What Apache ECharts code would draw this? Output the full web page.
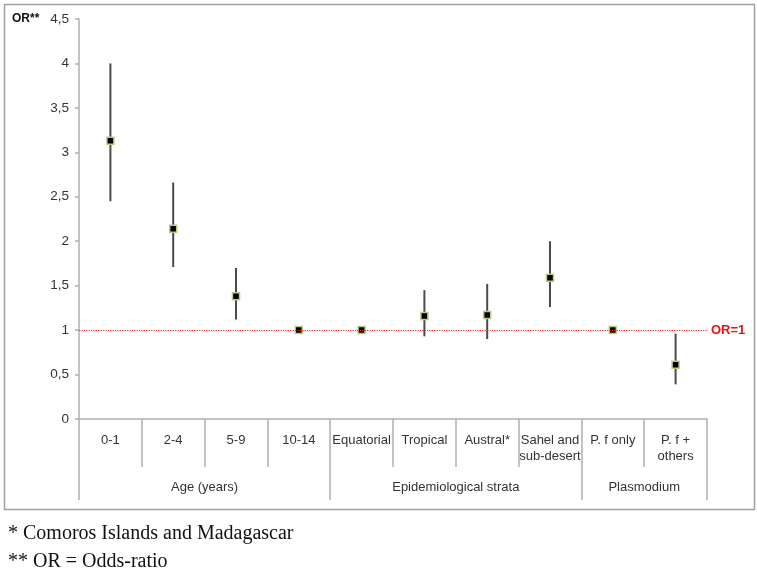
<!DOCTYPE html>
<html>
<head>
<meta charset="utf-8">
<script src="https://cdn.jsdelivr.net/npm/echarts@6/dist/echarts.min.js"></script>
<style>
html,body{margin:0;padding:0;background:#fff;}
#chart{width:757px;height:573px;}
</style>
</head>
<body>
<div id="chart"></div>
<script>
//数据
var categories=['0-1','2-4','5-9','10-14','Equatorial','Tropical','Austral*','Sahel and\nsub-desert','P. f only','P. f +\nothers'];
var orValues=[3.13,2.14,1.38,1,1,1.16,1.17,1.59,1,0.61];
var ciLow=[2.45,1.71,1.12,null,null,0.93,0.90,1.26,null,0.39];
var ciHigh=[4.00,2.66,1.70,null,null,1.45,1.52,2.00,null,0.96];
var groupNames=['Age (years)','Epidemiological strata','Plasmodium'];
var groupSizes=[4,4,2];
var yTicks=[0,4.5,0.5];//min,max,interval
var refLine=1;

//分组轴：半格刻度
var halfSteps=[];
var groupEdges=[0];
(function(){
	for(var i=0;i<=categories.length*2;i++){halfSteps.push('');}
	var start=0;
	for(var g=0;g<groupNames.length;g++){
		halfSteps[start*2+groupSizes[g]]=groupNames[g];
		start+=groupSizes[g];
		groupEdges.push(start*2);
	}
})();

var ciData=[];
for(var i=0;i<categories.length;i++){
	if(ciLow[i]!=null){ciData.push([i,ciLow[i],ciHigh[i]]);}
}

var myChart=echarts.init(document.getElementById('chart'));
var axisGrey='#b0b0b0';
var redLine={color:'#ff2020',type:'dotted',width:1.2};
var option={
	backgroundColor:'#ffffff',
	animation:false,
	textStyle:{fontFamily:'Liberation Sans, Arial, sans-serif'},
	title:{
		text:'OR**',
		left:7,
		top:8,
		textStyle:{fontSize:12,fontWeight:'bold',color:'#111'}
	},
	graphic:[
		{type:'rect',left:2,top:2,shape:{width:750,height:505},style:{fill:'none',stroke:'#a0a0a0',lineWidth:1.5},silent:true},
		{type:'text',left:8,top:524,style:{text:'* Comoros Islands and Madagascar',font:'20px "Liberation Serif", "Times New Roman", serif',fill:'#111'}},
		{type:'text',left:8,top:552,style:{text:'** OR = Odds-ratio',font:'20px "Liberation Serif", "Times New Roman", serif',fill:'#111'}}
	],
	grid:{left:79,right:50,top:19,bottom:154,containLabel:false},
	xAxis:[
		{
			type:'category',
			data:categories,
			axisLine:{lineStyle:{color:axisGrey,width:1.5}},
			axisTick:{show:true,interval:0,length:48,lineStyle:{color:axisGrey,width:1.5}},
			axisLabel:{interval:0,margin:13,color:'#333',fontSize:13,lineHeight:16}
		},
		{
			type:'category',
			position:'bottom',
			boundaryGap:false,
			data:halfSteps,
			axisLine:{show:false},
			axisTick:{show:true,length:81,lineStyle:{color:axisGrey,width:1.5},
				interval:function(idx){return groupEdges.indexOf(idx)>=0;}},
			axisLabel:{interval:0,margin:62,color:'#333',fontSize:13}
		}
	],
	yAxis:{
		type:'value',
		min:yTicks[0],
		max:yTicks[1],
		interval:yTicks[2],
		splitLine:{show:false},
		axisLine:{show:true,lineStyle:{color:axisGrey,width:1.5}},
		axisTick:{show:true,length:4,lineStyle:{color:axisGrey,width:1.5}},
		axisLabel:{margin:10,color:'#333',fontSize:13.5,
			formatter:function(v){return String(v).replace('.',',');}}
	},
	series:[
		{
			name:'CI',
			type:'custom',
			xAxisIndex:0,
			data:ciData,
			renderItem:function(params,api){
				var x=api.value(0);
				var lo=api.coord([x,api.value(1)]);
				var hi=api.coord([x,api.value(2)]);
				return {type:'line',shape:{x1:lo[0],y1:lo[1],x2:hi[0],y2:hi[1]},
					style:{stroke:'#4a4a4a',lineWidth:2}};
			},
			z:2
		},
		{
			name:'OR',
			type:'scatter',
			xAxisIndex:0,
			data:orValues,
			symbol:'rect',
			symbolSize:7,
			itemStyle:{color:'#000',borderColor:'#b9cc7e',borderWidth:1.5,opacity:1},
			z:3,
			markLine:{
				silent:true,
				symbol:['none','none'],
				lineStyle:redLine,
				label:{show:true,position:'end',formatter:'OR=1',color:'#ee1111',fontWeight:'bold',fontSize:13,distance:4},
				data:[{yAxis:refLine,lineStyle:redLine}]
			}
		}
	]
};
myChart.setOption(option);
</script>
</body>
</html>
